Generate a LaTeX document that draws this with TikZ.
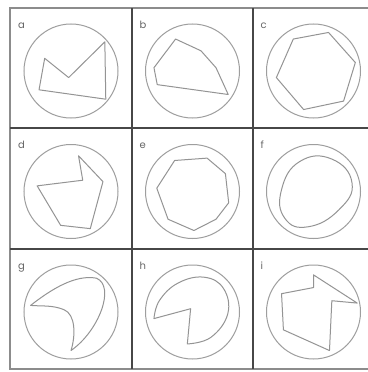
\documentclass[tikz,border=0pt]{standalone}
\usepackage{fontspec}
\setsansfont{Poppins}
\usetikzlibrary{calc}

\begin{document}
\begin{tikzpicture}[
  x=1pt, y=-1pt,
  frame/.style ={draw=black!45, line width=1.8pt},
  grid/.style  ={draw=black!72, line width=1.8pt},
  ring/.style  ={circle, draw=black!38, line width=1pt, minimum size=94pt, inner sep=0pt},
  outline/.style={draw=black!42, line width=1pt, line join=round},
  tag/.style   ={font=\sffamily\fontsize{10}{12}\selectfont, text=black!60, inner sep=0pt, anchor=base west}
]

\path[fill=white, use as bounding box] (0,0) rectangle (367,372);

% frame and the two inner rules each way
\draw[frame] (10,8) rectangle (374,369);
\draw[grid] (132,8) -- (132,369);
\draw[grid] (253,8) -- (253,369);
\draw[grid] (10,128) -- (374,128);
\draw[grid] (10,249) -- (374,249);

\foreach \t/\x/\y in {a/71/68, b/192.5/68, c/313.5/68,
                      d/71/188.5, e/192.5/188.5, f/313.5/188.5,
                      g/71/309, h/192.5/309, i/313.5/309} {
  \node[ring] (ring-\t) at (\x,\y+3) {};
  \node[tag] (tag-\t) at (\x-53,\y-40) {\t};
}

% one figure per ring, in units of the ring radius
\begin{scope}[shift={(ring-a.center)}, x=47pt, y=-47pt]
  \draw[outline] (-0.56,-0.27) -- (-0.05,0.14) -- (0.72,-0.62) -- (0.74,0.6) -- (-0.68,0.4) -- cycle;
\end{scope}
\begin{scope}[shift={(ring-b.center)}, x=47pt, y=-47pt]
  \draw[outline] (-0.36,-0.68) -- (0.18,-0.43) -- (0.5,-0.07) -- (0.76,0.5) -- (-0.75,0.29) -- (-0.82,-0.07) -- cycle;
\end{scope}
\begin{scope}[shift={(ring-c.center)}, x=47pt, y=-47pt]
  \draw[outline] (-0.43,-0.68) -- (0.32,-0.82) -- (0.89,-0.18) -- (0.64,0.64) -- (-0.21,0.82) -- (-0.79,0.14) -- cycle;
\end{scope}
\begin{scope}[shift={(ring-d.center)}, x=47pt, y=-47pt]
  \draw[outline] (0.16,-0.76) -- (0.25,-0.24) -- (-0.72,-0.12) -- (-0.22,0.72) -- (0.41,0.79) -- (0.68,-0.21) -- cycle;
\end{scope}
\begin{scope}[shift={(ring-e.center)}, x=47pt, y=-47pt]
  \draw[outline] (-0.38,-0.66) -- (0.31,-0.71) -- (0.7,-0.38) -- (0.77,0.24) -- (0.5,0.59) -- (0.03,0.83) -- (-0.52,0.59) -- (-0.76,-0.07) -- cycle;
\end{scope}
\begin{scope}[shift={(ring-f.center)}, x=47pt, y=-47pt]
  \draw[outline] plot[smooth cycle, tension=0.8] coordinates
    {(-0.29,-0.64) (0.39,-0.69) (0.82,-0.18) (0.54,0.39) (-0.11,0.75) (-0.61,0.57) (-0.68,-0.04)};
\end{scope}
\begin{scope}[shift={(ring-g.center)}, x=47pt, y=-47pt]
  \draw[outline] (-0.86,-0.14) .. controls (-0.4,-0.5) and (0.1,-0.8) .. (0.54,-0.72)
    .. controls (0.95,-0.55) and (0.6,0.4) .. (0,0.82)
    .. controls (0.1,0.5) and (0.1,0.05) .. (-0.15,-0.05)
    .. controls (-0.4,-0.15) and (-0.6,-0.12) .. cycle;
\end{scope}
\begin{scope}[shift={(ring-h.center)}, x=47pt, y=-47pt]
  \draw[outline] (-0.04,-0.07) -- (-0.11,0.68) -- plot[smooth, tension=0.7] coordinates
    {(-0.11,0.68) (0.39,0.54) (0.75,0.04) (0.66,-0.5) (0.25,-0.74) (-0.3,-0.62) (-0.7,-0.25) (-0.82,0.14)} -- cycle;
\end{scope}
\begin{scope}[shift={(ring-i.center)}, x=47pt, y=-47pt]
  \draw[outline] (0,-0.79) -- (0.93,-0.19) -- (0.39,-0.24) -- (0.34,0.82) -- (-0.64,0.38) -- (-0.68,-0.39) -- (0,-0.52) -- cycle;
\end{scope}

\end{tikzpicture}
\end{document}
